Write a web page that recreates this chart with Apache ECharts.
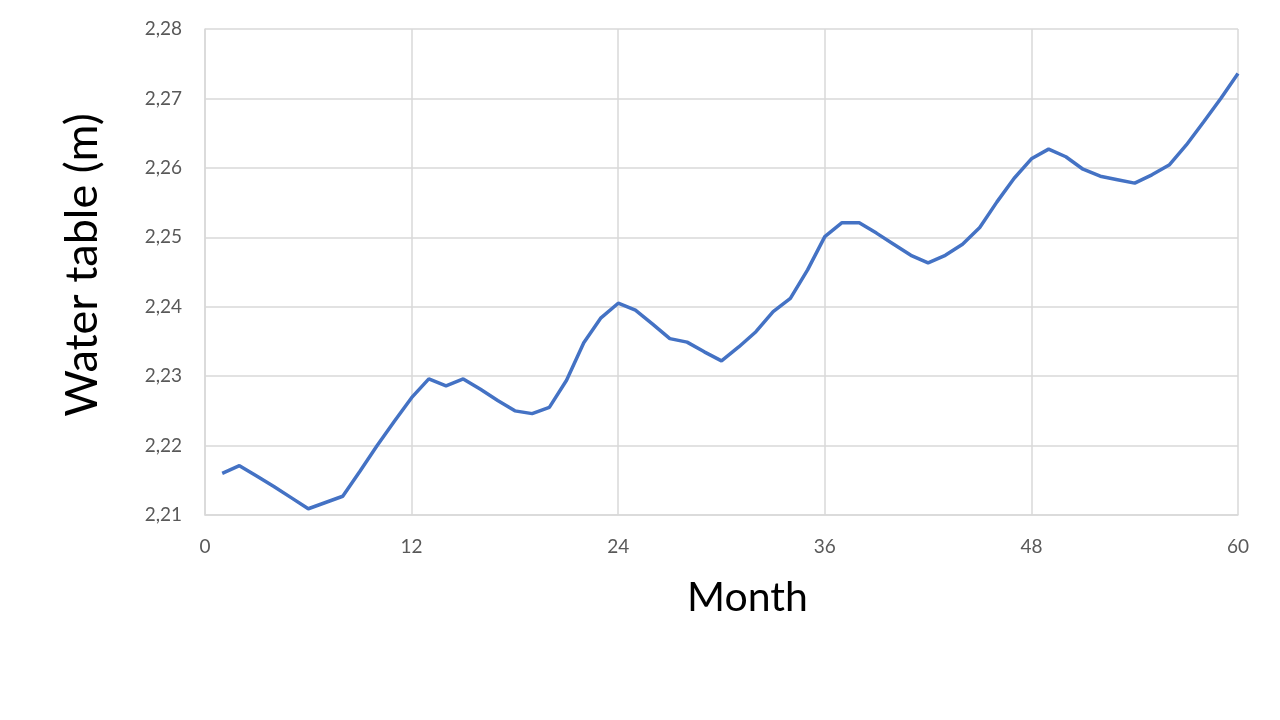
<!DOCTYPE html>
<html>
<head>
<meta charset="utf-8">
<script src="https://cdn.jsdelivr.net/npm/echarts@6/dist/echarts.min.js"></script>
<style>html,body{margin:0;padding:0;background:#fff}#c{width:1280px;height:720px}</style>
</head>
<body>
<div id="c"></div>
<script>
const months = [1,2,3,4,5,6,7,8,9,10,11,12,13,14,15,16,17,18,19,20,21,22,23,24,25,26,27,28,29,30,31,32,33,34,35,36,37,38,39,40,41,42,43,44,45,46,47,48,49,50,51,52,53,54,55,56,57,58,59,60];
const waterTable = [2.2160,2.2171,2.2156,2.2141,2.2125,2.2109,2.2118,2.2127,2.2163,2.2200,2.2235,2.2269,2.2296,2.2286,2.2296,2.2281,2.2265,2.2250,2.2246,2.2255,2.2294,2.2348,2.2384,2.2405,2.2395,2.2375,2.2354,2.2349,2.2335,2.2322,2.2342,2.2364,2.2393,2.2412,2.2453,2.2501,2.2521,2.2521,2.2506,2.2490,2.2474,2.2463,2.2474,2.2490,2.2514,2.2551,2.2585,2.2613,2.2627,2.2616,2.2598,2.2588,2.2583,2.2578,2.2590,2.2604,2.2633,2.2666,2.2700,2.2736];
const xTitle = 'Month';
const yTitle = 'Water table (m)';

const chart = echarts.init(document.getElementById('c'));
const font = 'Lato, "Open Sans", sans-serif';
chart.setOption({
  animation: false,
  grid: {left: 205, right: 42, top: 29, bottom: 205},
  xAxis: {
    type: 'value', min: 0, max: 60, interval: 12,
    name: xTitle, nameLocation: 'middle', nameGap: 62,
    nameTextStyle: {fontSize: 41, color: '#000', fontFamily: font, padding: [0, 0, 0, 52]},
    axisLine: {show: true, lineStyle: {color: '#d9d9d9', width: 1.5}},
    axisTick: {show: false},
    axisLabel: {color: '#595959', fontSize: 19, margin: 22, fontFamily: font},
    splitLine: {show: true, lineStyle: {color: '#d9d9d9', width: 1.5}}
  },
  yAxis: {
    type: 'value', min: 2.21, max: 2.28, interval: 0.01,
    name: yTitle, nameLocation: 'middle', nameGap: 100,
    nameTextStyle: {fontSize: 45, color: '#000', fontFamily: font, padding: [0, 0, 0, 14]},
    axisLine: {show: true, lineStyle: {color: '#d9d9d9', width: 1.5}},
    axisTick: {show: false},
    axisLabel: {color: '#595959', fontSize: 19, margin: 23, fontFamily: font,
      formatter: v => v.toFixed(2).replace('.', ',')},
    splitLine: {show: true, lineStyle: {color: '#d9d9d9', width: 1.5}}
  },
  series: [{
    type: 'line',
    data: months.map((m, i) => [m, waterTable[i]]),
    showSymbol: false,
    lineStyle: {color: '#4472C4', width: 3.5},
    itemStyle: {color: '#4472C4'}
  }]
});
</script>
</body>
</html>
